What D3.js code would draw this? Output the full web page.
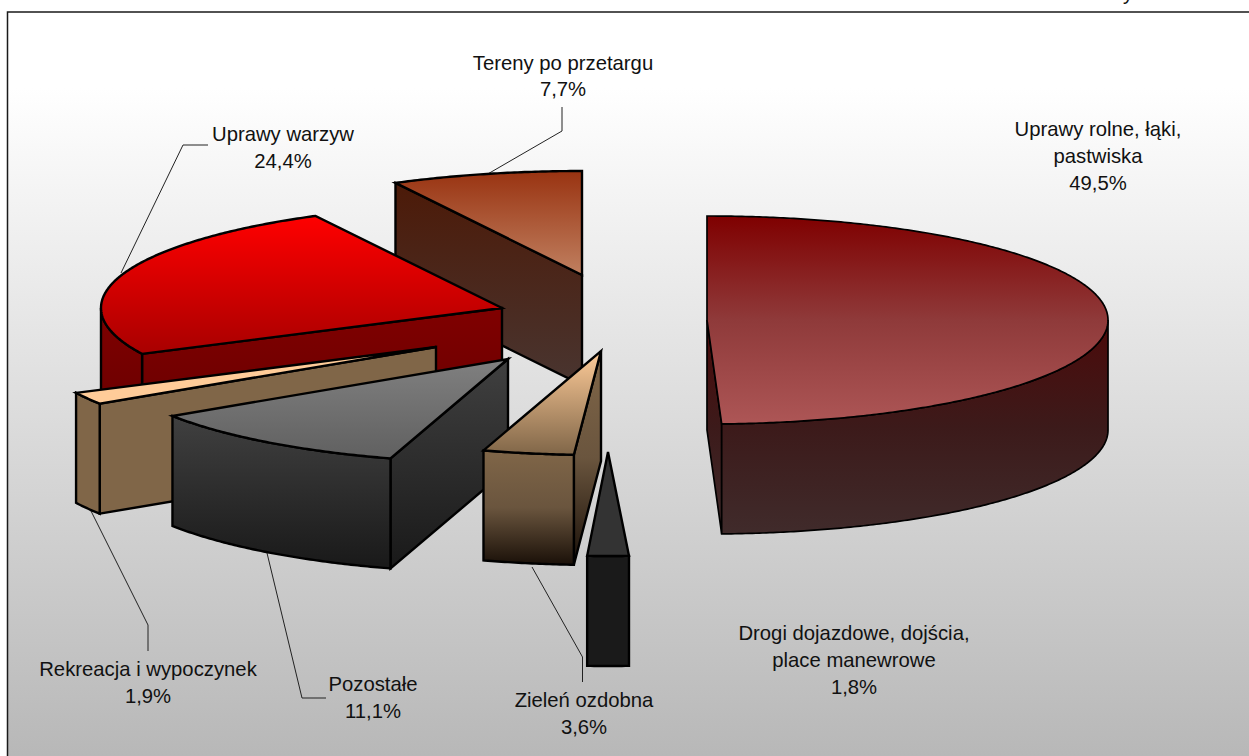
<!DOCTYPE html>
<html>
<head>
<meta charset="utf-8">
<title>Struktura terenów</title>
<script src="https://cdn.jsdelivr.net/npm/d3@7"></script>
<style>
  html, body { margin: 0; padding: 0; background: #fff; overflow: hidden; }
  svg { display: block; }
  text { font-family: "Liberation Sans", Arial, sans-serif; font-size: 20.3px; fill: #111; }
</style>
</head>
<body>
<svg id="chart" width="1249" height="756"></svg>
<script>
// data, clockwise from 12 o'clock
const categories = [
  ['Uprawy rolne, łąki,', 'pastwiska'],
  ['Drogi dojazdowe, dojścia,', 'place manewrowe'],
  ['Zieleń ozdobna'],
  ['Pozostałe'],
  ['Rekreacja i wypoczynek'],
  ['Uprawy warzyw'],
  ['Tereny po przetargu']
];
const values = [49.5, 1.8, 3.6, 11.1, 1.9, 24.4, 7.7];

// layout, same order as the data
const sliceCentres = [[707, 320], [608, 452], [601, 351], [508, 359], [436, 347], [502, 308], [582, 275]];
const angleNudges = [[0, -0.3], [-1.2, -1.7], [-0.8, -0.6], [-0.6, -0.8], [-0.6, -0.6], [-0.6, 0], [0, 0]];
const labelPos = [[1098, 136], [854, 640], [584, 707], [373, 691], [148, 676], [283, 141], [563, 70]];
const labelGap = [27, 27, 27, 27, 27, 27, 26];
const leaders = [
  null,
  null,
  [[532, 567], [582.5, 657], [582.5, 682]],
  [[267, 553], [302, 698], [326, 698]],
  [[88, 505], [148, 625], [148, 651]],
  [[121, 273], [183, 145], [208, 145]],
  [[486, 175], [562, 131], [562, 107]]
];
const topColours = [
  ['#7f0000', '#8f3a3a', '#ad5656'], ['#333333', '#333333'], ['#ffcc99', '#806648'], ['#808080', '#606060'],
  ['#ffcc99', '#ffcc99'], ['#ff0000', '#a80000'], ['#993311', '#c08060']
];
const wallColours = [
  ['#4c0a0a', '#3c1a1a', '#402b2b'], ['#1a1a1a', '#1a1a1a'], ['#806648', '#6a553e', '#1a1008'], ['#404040', '#191919'],
  ['#806648', '#806648'], ['#800000', '#600000'], ['#4c1a08', '#493530']
];
const strokeWidths = [1.7, 2.4, 2.4, 2.4, 2.4, 2.4, 2.4];
const drawOrder = [6, 5, 4, 3, 0, 2, 1];

const rx = 401, ry = 104, depth = 110;

const svg = d3.select('#chart');
const defs = svg.append('defs');

function addGradient(id, colours) {
  const g = defs.append('linearGradient').attr('id', id)
    .attr('x1', 0).attr('y1', 0).attr('x2', 0).attr('y2', 1);
  colours.forEach((c, k) => {
    g.append('stop').attr('offset', k / (colours.length - 1)).attr('stop-color', c);
  });
  return 'url(#' + id + ')';
}

// background and frame
const bgGradient = defs.append('linearGradient').attr('id', 'bg')
  .attr('x1', 0).attr('y1', 0).attr('x2', 0).attr('y2', 1);
bgGradient.append('stop').attr('offset', 0.1).attr('stop-color', '#ffffff');
bgGradient.append('stop').attr('offset', 1).attr('stop-color', '#b6b6b6');

svg.append('rect')
  .attr('x', 7.5).attr('y', 12)
  .attr('width', 1260).attr('height', 760)
  .attr('fill', 'url(#bg)')
  .attr('stroke', '#1a1a1a').attr('stroke-width', 1.5);

// caption cut by the top of the page
svg.append('text').attr('x', 1104).attr('y', 0).text('Wykres 33');

const pie = d3.pie().sort(null).value(d => d)
  .startAngle(0).endAngle(2 * Math.PI);
const slices = pie(values);

const xUnit = d3.scaleLinear().domain([-1, 1]).range([-rx, rx]);
const yUnit = d3.scaleLinear().domain([-1, 1]).range([ry, -ry]);
const toRad = d => d * Math.PI / 180;

function rimPoint(i, a) {
  const c = sliceCentres[i];
  return [c[0] + xUnit(Math.sin(a)), c[1] + yUnit(Math.cos(a))];
}

function rim(i, from, to) {
  const steps = d3.range(from, to, toRad(0.5));
  steps.push(to);
  return steps.map(a => rimPoint(i, a));
}

const line = d3.line();
const closed = pts => line(pts) + 'Z';
const drop = p => [p[0], p[1] + depth];

// leader lines sit under the slices
svg.append('g').selectAll('path')
  .data(leaders.filter(d => d))
  .join('path')
  .attr('d', d => line(d))
  .attr('fill', 'none')
  .attr('stroke', '#222')
  .attr('stroke-width', 1);

function drawSlice(i) {
  const s = slices[i];
  const start = s.startAngle + toRad(angleNudges[i][0]);
  const end = s.endAngle + toRad(angleNudges[i][1]);
  const centre = sliceCentres[i];
  const g = svg.append('g').attr('class', 'slice')
    .attr('stroke', '#000').attr('stroke-width', strokeWidths[i]).attr('stroke-linejoin', 'miter');
  const wallFill = addGradient('wall' + i, wallColours[i]);
  const topFill = addGradient('top' + i, topColours[i]);

  // cut faces that look towards the viewer
  if (start > Math.PI) {
    const p = rimPoint(i, start);
    g.append('path').attr('d', closed([centre, p, drop(p), drop(centre)])).attr('fill', wallFill);
  }
  if (end < Math.PI) {
    const p = rimPoint(i, end);
    g.append('path').attr('d', closed([centre, p, drop(p), drop(centre)])).attr('fill', wallFill);
  }

  // outer wall, only the front half of the rim
  const from = Math.max(start, Math.PI / 2);
  const to = Math.min(end, 3 * Math.PI / 2);
  if (to > from) {
    const edge = rim(i, from, to);
    g.append('path')
      .attr('d', closed(edge.concat(edge.map(drop).reverse())))
      .attr('fill', wallFill);
  }

  // top face
  g.append('path')
    .attr('d', closed([centre].concat(rim(i, start, end))))
    .attr('fill', topFill);
}

drawOrder.forEach(drawSlice);

// labels
const fmt = v => v.toFixed(1).replace('.', ',') + '%';
const labels = svg.append('g').selectAll('text')
  .data(categories.map((c, i) => ({ lines: c.concat(fmt(values[i])), pos: labelPos[i], gap: labelGap[i] })))
  .join('text')
  .attr('text-anchor', 'middle')
  .attr('x', d => d.pos[0])
  .attr('y', d => d.pos[1]);

labels.selectAll('tspan')
  .data(d => d.lines.map((t, k) => ({ t, k, x: d.pos[0], gap: d.gap })))
  .join('tspan')
  .attr('x', d => d.x)
  .attr('dy', d => d.k ? d.gap : 0)
  .text(d => d.t);
</script>
</body>
</html>
